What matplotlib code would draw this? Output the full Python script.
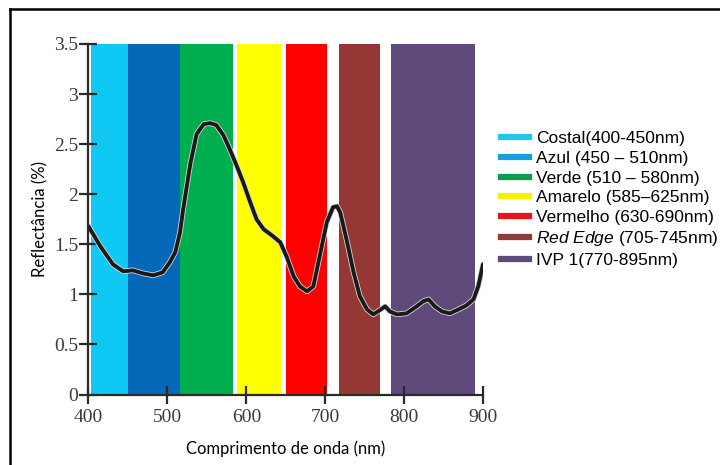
import matplotlib
matplotlib.use('Agg')
import matplotlib.pyplot as plt
import matplotlib.patheffects as pe
from matplotlib.lines import Line2D

# Faixas espectrais (nm)
faixa_nomes = ['Costal(400-450nm)', 'Azul (450 \u2013 510nm)', 'Verde (510 \u2013 580nm)',
               'Amarelo (585\u2013625nm)', 'Vermelho (630-690nm)',
               r'$\it{Red\ Edge}$ (705-745nm)', 'IVP 1(770-895nm)']
faixa_inicio = [403, 450, 516, 588, 650, 717, 783]
faixa_fim = [450, 516, 583, 644, 702, 769, 890]
faixa_cores = ['#10c8f4', '#0568b9', '#00ae50', '#ffff00', '#ff0000', '#953735', '#604a7b']
legenda_cores = ['#22c6ea', '#18a0dc', '#0c9e48', '#f4f000', '#e8141a', '#8b3c3c', '#5b4c7c']

# Curva de reflectância (%)
comprimento = [400, 415, 431, 444, 456, 469, 482, 494, 503, 510, 516, 520, 529, 537,
               546, 554, 562, 571, 579, 588, 596, 605, 613, 622, 634, 643, 651, 660,
               668, 677, 685, 693, 702, 710, 715, 719, 727, 736, 744, 753, 761, 767,
               776, 782, 791, 803, 816, 824, 831, 839, 848, 858, 869, 879, 888, 894, 900]
reflectancia = [1.68, 1.48, 1.30, 1.23, 1.24, 1.21, 1.19, 1.22, 1.32, 1.42, 1.62, 1.85, 2.30, 2.60,
                2.70, 2.71, 2.69, 2.59, 2.45, 2.28, 2.12, 1.92, 1.75, 1.65, 1.58, 1.52, 1.38, 1.18,
                1.08, 1.03, 1.08, 1.38, 1.72, 1.87, 1.88, 1.82, 1.55, 1.22, 0.98, 0.85, 0.80, 0.83,
                0.88, 0.83, 0.80, 0.81, 0.88, 0.93, 0.95, 0.88, 0.83, 0.81, 0.85, 0.89, 0.95, 1.08, 1.30]

x_ticks = [400, 500, 600, 700, 800, 900]
y_ticks = [0, 0.5, 1, 1.5, 2, 2.5, 3, 3.5]
y_labels = ['0', '0.5', '1', '1.5', '2', '2.5', '3', '3.5']

plt.rcParams['mathtext.fontset'] = 'custom'
plt.rcParams['mathtext.it'] = 'Liberation Sans:italic'
plt.rcParams['mathtext.rm'] = 'Liberation Sans'

fig = plt.figure(figsize=(7.2, 4.65), dpi=100)
ax = fig.add_axes([0.1229, 0.1516, 0.5479, 0.7538])

for ini, fim, cor in zip(faixa_inicio, faixa_fim, faixa_cores):
    ax.axvspan(ini, fim, ymin=0, ymax=1, color=cor, lw=0, zorder=1)

ax.plot(comprimento, reflectancia, color='#1a1a1a', lw=2.8, zorder=3,
        solid_capstyle='round', solid_joinstyle='round',
        path_effects=[pe.Stroke(linewidth=4.0, foreground='#d8d8d8'), pe.Normal()])

ax.set_xlim(400, 900)
ax.set_ylim(0, 3.5)
ax.set_xticks(x_ticks)
ax.set_yticks(y_ticks)
ax.set_yticklabels(y_labels)

for lado in ['top', 'right']:
    ax.spines[lado].set_visible(False)
for lado in ['left', 'bottom']:
    ax.spines[lado].set_color('#2a2a2a')
    ax.spines[lado].set_linewidth(1.6)
    ax.spines[lado].set_zorder(4)

ax.tick_params(axis='both', direction='inout', length=13, width=1.6, color='#2a2a2a',
               labelsize=14, labelcolor='#3a3a3a')
ax.tick_params(axis='y', pad=1)
ax.tick_params(axis='x', pad=4)
for lab in ax.get_xticklabels() + ax.get_yticklabels():
    lab.set_fontfamily('Liberation Serif')

ax.set_xlabel('Comprimento de onda (nm)', fontsize=12, family='Lato', labelpad=10)
ax.set_ylabel('Reflectância (%)', fontsize=12, family='Lato', labelpad=4)

handles = [Line2D([0], [0], color=c, lw=4.5) for c in legenda_cores]
fig.legend(handles, faixa_nomes, loc='upper left', bbox_to_anchor=(0.6958, 0.718),
           frameon=False, borderpad=0, borderaxespad=0, handlelength=1.6,
           handletextpad=0.4, labelspacing=0.26,
           prop={'family': 'Liberation Sans', 'size': 12.5})

# moldura (esquerda e topo)
fig.add_artist(Line2D([10 / 720, 10 / 720], [0, 1 - 9 / 465], color='black', lw=1.8,
                      transform=fig.transFigure))
fig.add_artist(Line2D([10 / 720, 1], [1 - 9 / 465, 1 - 9 / 465], color='black', lw=1.8,
                      transform=fig.transFigure))

fig.savefig('out.png', dpi=100)
